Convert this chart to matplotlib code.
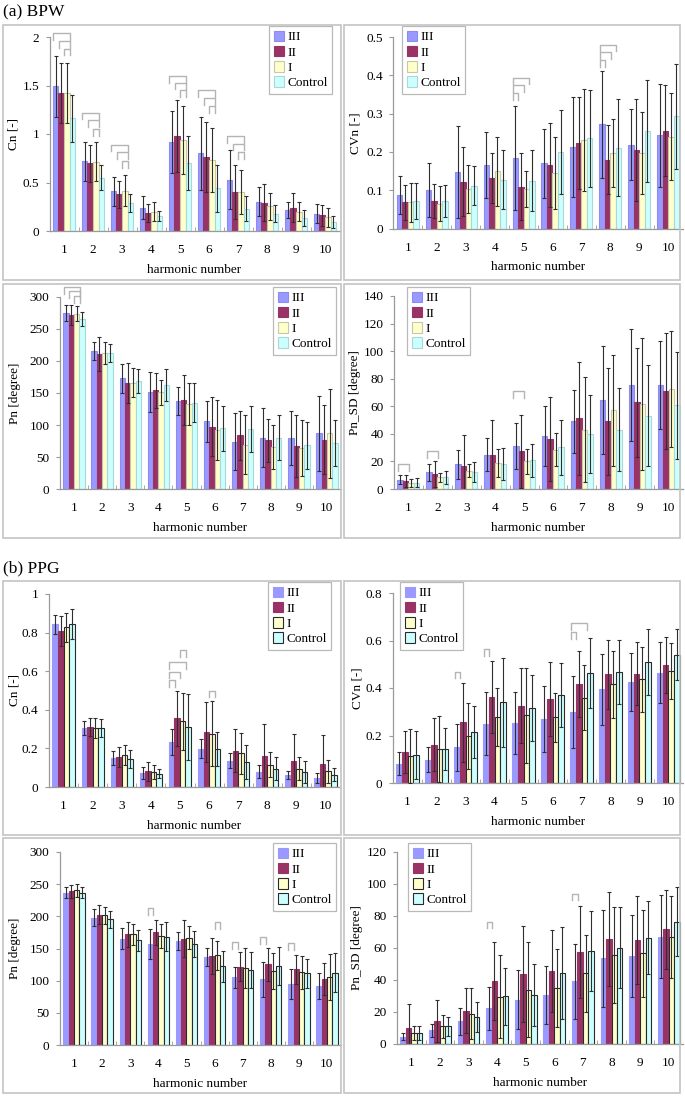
import matplotlib
matplotlib.use('Agg')
import matplotlib.pyplot as plt
import numpy as np
from matplotlib.patches import Rectangle

plt.rcParams['font.family'] = ['Liberation Serif', 'DejaVu Serif']

W, H = 685, 1097

series = ['III', 'II', 'I', 'Control']
harmonics = ['1', '2', '3', '4', '5', '6', '7', '8', '9', '10']

# ---------------- (a) BPW ----------------
bpw_cn_mean = [[1.49, 0.72, 0.41, 0.24, 0.92, 0.80, 0.53, 0.30, 0.215, 0.18],
               [1.42, 0.70, 0.38, 0.185, 0.98, 0.76, 0.405, 0.29, 0.24, 0.16],
               [1.42, 0.715, 0.415, 0.20, 0.94, 0.735, 0.405, 0.255, 0.20, 0.14],
               [1.16, 0.55, 0.29, 0.155, 0.70, 0.44, 0.23, 0.18, 0.135, 0.09]]
bpw_cn_sd = [[0.31, 0.20, 0.15, 0.12, 0.32, 0.375, 0.30, 0.15, 0.08, 0.10],
             [0.31, 0.19, 0.14, 0.09, 0.37, 0.36, 0.28, 0.19, 0.15, 0.105],
             [0.31, 0.20, 0.16, 0.10, 0.35, 0.33, 0.225, 0.14, 0.10, 0.10],
             [0.24, 0.13, 0.09, 0.05, 0.28, 0.24, 0.13, 0.085, 0.085, 0.06]]

bpw_cvn_mean = [[0.087, 0.100, 0.148, 0.166, 0.185, 0.170, 0.213, 0.272, 0.219, 0.243],
                [0.068, 0.072, 0.122, 0.131, 0.109, 0.165, 0.223, 0.180, 0.204, 0.255],
                [0.068, 0.065, 0.103, 0.150, 0.104, 0.145, 0.230, 0.197, 0.197, 0.240],
                [0.071, 0.071, 0.112, 0.127, 0.125, 0.200, 0.235, 0.211, 0.254, 0.293]]
bpw_cvn_sd = [[0.050, 0.070, 0.120, 0.086, 0.136, 0.090, 0.130, 0.139, 0.093, 0.135],
              [0.045, 0.045, 0.090, 0.065, 0.088, 0.110, 0.120, 0.089, 0.133, 0.119],
              [0.050, 0.045, 0.063, 0.090, 0.047, 0.094, 0.133, 0.088, 0.106, 0.114],
              [0.047, 0.042, 0.050, 0.077, 0.080, 0.110, 0.126, 0.126, 0.133, 0.137]]

bpw_pn_mean = [[275, 216, 173, 152, 137, 106, 74, 80, 80, 87],
               [272, 211, 166, 154, 139, 97, 84, 76, 67, 77],
               [274, 213, 166, 151, 133, 92, 69, 66, 64, 87],
               [265, 212, 169, 163, 135, 95, 94, 80, 68, 72]]
bpw_pn_sd = [[13, 14, 23, 31, 22, 32, 45, 46, 42, 59],
             [15, 27, 31, 27, 39, 46, 38, 34, 48, 54],
             [12, 17, 23, 19, 33, 47, 46, 34, 44, 70],
             [11, 14, 19, 25, 30, 35, 36, 35, 36, 36]]

bpw_pnsd_mean = [[6.8, 12.0, 18.0, 24.9, 31.1, 38.6, 49.0, 64.7, 75.5, 75.5],
                 [6.0, 10.9, 16.9, 24.4, 27.3, 36.4, 51.4, 49.0, 62.8, 71.2],
                 [4.3, 8.4, 13.3, 18.8, 20.0, 28.5, 43.0, 57.0, 61.5, 72.7],
                 [4.6, 8.4, 12.3, 18.1, 20.8, 30.2, 39.8, 43.0, 53.3, 60.6]]
bpw_pnsd_sd = [[3.3, 6.0, 10.5, 12.0, 16.7, 21.7, 23.0, 39.0, 40.6, 32.0],
               [4.4, 9.6, 22.4, 25.3, 26.5, 30.6, 41.0, 38.6, 39.8, 42.0],
               [3.2, 3.2, 4.7, 10.4, 9.0, 12.0, 38.0, 40.0, 48.0, 42.0],
               [3.4, 4.9, 7.2, 11.6, 12.0, 20.0, 28.5, 30.0, 36.7, 39.0]]

# ---------------- (b) PPG ----------------
ppg_cn_mean = [[0.844, 0.307, 0.151, 0.075, 0.234, 0.199, 0.137, 0.080, 0.061, 0.047],
               [0.809, 0.310, 0.156, 0.081, 0.355, 0.286, 0.189, 0.159, 0.135, 0.118],
               [0.828, 0.307, 0.165, 0.078, 0.341, 0.277, 0.175, 0.116, 0.095, 0.081],
               [0.844, 0.305, 0.147, 0.069, 0.310, 0.198, 0.130, 0.095, 0.078, 0.064]]
ppg_cn_sd = [[0.049, 0.036, 0.036, 0.031, 0.066, 0.049, 0.040, 0.033, 0.022, 0.024],
             [0.078, 0.047, 0.052, 0.049, 0.144, 0.154, 0.111, 0.165, 0.141, 0.151],
             [0.076, 0.052, 0.052, 0.035, 0.148, 0.168, 0.106, 0.066, 0.058, 0.061],
             [0.078, 0.047, 0.047, 0.023, 0.170, 0.088, 0.087, 0.058, 0.057, 0.035]]

ppg_cvn_mean = [[0.081, 0.098, 0.150, 0.249, 0.252, 0.270, 0.298, 0.394, 0.425, 0.464],
                [0.130, 0.161, 0.255, 0.361, 0.326, 0.354, 0.417, 0.457, 0.461, 0.495],
                [0.113, 0.143, 0.197, 0.278, 0.285, 0.277, 0.359, 0.415, 0.436, 0.471],
                [0.119, 0.143, 0.214, 0.340, 0.315, 0.371, 0.464, 0.466, 0.510, 0.541]]
ppg_cvn_sd = [[0.049, 0.053, 0.098, 0.133, 0.130, 0.140, 0.152, 0.149, 0.123, 0.128],
              [0.087, 0.112, 0.167, 0.152, 0.159, 0.154, 0.138, 0.147, 0.133, 0.118],
              [0.114, 0.138, 0.139, 0.121, 0.200, 0.104, 0.137, 0.140, 0.135, 0.119],
              [0.102, 0.089, 0.110, 0.187, 0.140, 0.135, 0.147, 0.135, 0.140, 0.109]]

ppg_pn_mean = [[237, 198, 165.5, 156.7, 161.4, 136.6, 105, 102, 94.7, 91.6],
               [239, 202.8, 171.8, 174.9, 165.5, 138.6, 121.6, 125.2, 117.4, 102],
               [240.6, 201.8, 171.8, 169.7, 166.6, 139.7, 120, 115.4, 112.8, 105],
               [237, 195.5, 163, 168.6, 156.7, 122.6, 116.4, 122.6, 111.2, 112.3]]
ppg_pn_sd = [[8, 13, 17, 23, 13.5, 14.5, 16.6, 27, 23, 19.7],
             [10, 14.5, 20, 20, 28.5, 28, 22.7, 26, 22.8, 24.8],
             [10, 13, 16.5, 19, 18, 22.7, 31, 28, 25.6, 35.7],
             [8, 13.5, 16.5, 23, 20, 24, 27.4, 29.6, 22.3, 30.5]]

ppg_pnsd_mean = [[4.4, 8.5, 14.1, 22.2, 27.8, 30.5, 39.2, 53.6, 55.0, 67.0],
                 [10.0, 14.5, 20.8, 39.2, 44.0, 45.5, 57.5, 65.6, 65.0, 71.8],
                 [6.6, 11.0, 18.9, 29.5, 34.0, 35.0, 44.2, 55.6, 56.6, 67.0],
                 [6.9, 11.0, 16.8, 29.9, 30.5, 44.4, 58.3, 60.2, 66.4, 76.4]]
ppg_pnsd_sd = [[2.2, 4.2, 8.3, 13.3, 18.7, 18.3, 23.5, 30.4, 25.5, 26.0],
               [15.0, 13.0, 14.0, 24.5, 30.0, 25.5, 28.6, 29.5, 27.6, 24.7],
               [4.4, 7.3, 16.0, 26.0, 29.7, 24.5, 24.0, 30.0, 27.0, 25.6],
               [4.5, 5.8, 9.4, 17.8, 19.3, 29.0, 25.0, 25.5, 22.8, 21.6]]

# significance brackets: (harmonic index, series a, series b, top value)
bpw_cn_br = [(0, 0, 3, 2.04), (0, 1, 3, 1.96), (0, 2, 3, 1.88),
             (1, 0, 3, 1.22), (1, 1, 3, 1.14), (1, 2, 3, 1.05),
             (2, 0, 3, 0.89), (2, 1, 3, 0.81), (2, 2, 3, 0.72),
             (4, 0, 3, 1.60), (4, 1, 3, 1.53), (4, 2, 3, 1.45),
             (5, 0, 3, 1.45), (5, 1, 3, 1.37), (5, 2, 3, 1.29),
             (6, 0, 3, 0.98), (6, 1, 3, 0.90), (6, 2, 3, 0.81)]
bpw_cvn_br = [(4, 0, 3, 0.394), (4, 0, 2, 0.374), (4, 0, 1, 0.354),
              (7, 0, 3, 0.480), (7, 0, 2, 0.461), (7, 0, 1, 0.439)]
bpw_pn_br = [(0, 0, 3, 315), (0, 1, 3, 309), (0, 2, 3, 301)]
bpw_pnsd_br = [(0, 0, 2, 18.3), (1, 0, 2, 27.3), (4, 0, 2, 71.0)]
ppg_cn_br = [(4, 0, 3, 0.646), (4, 0, 2, 0.598), (4, 0, 1, 0.555),
             (4, 2, 3, 0.711), (5, 2, 3, 0.499)]
ppg_cvn_br = [(2, 0, 1, 0.469), (3, 0, 1, 0.564), (6, 0, 3, 0.674), (6, 0, 1, 0.636)]
ppg_pn_br = [(3, 0, 1, 213), (5, 2, 3, 191), (6, 0, 1, 160), (7, 0, 1, 168), (8, 0, 1, 158)]
ppg_pnsd_br = [(3, 0, 1, 76.4), (6, 0, 1, 94.0)]

colors = ['#9999ff', '#993366', '#ffffcc', '#ccffff']
bpw_edges = ['#8c8cf0', '#993366', '#c8c8a8', '#a8d8d8']
ppg_edges = ['#9999ff', '#993366', '#2a2a2a', '#2a2a2a']

fig = plt.figure(figsize=(W / 100, H / 100), dpi=100)

# panel frames (pixel coordinates: left, top, right, bottom)
frames = [(3, 25, 341, 280), (344, 25, 680, 280),
          (3, 284, 341, 538), (344, 284, 680, 538),
          (3, 581, 341, 835), (344, 581, 680, 835),
          (3, 838, 341, 1093), (344, 838, 680, 1093)]
for (l, t, r, b) in frames:
    fig.add_artist(Rectangle((l / W, 1 - b / H), (r - l) / W, (b - t) / H,
                             transform=fig.transFigure, fill=False,
                             edgecolor='#c4c4c4', lw=1.2))

fig.text(3 / W, 1 - 12 / H, '(a) BPW', fontsize=12.5, va='center', ha='left')
fig.text(3 / W, 1 - 568 / H, '(b) PPG', fontsize=12.5, va='center', ha='left')

panels = [
    dict(mean=bpw_cn_mean, sd=bpw_cn_sd, br=bpw_cn_br, ylim=(0, 2), ticks=[0, 0.5, 1, 1.5, 2],
         ylabel='Cn [-]', rect=(49.5, 37, 339.5, 231), ylab=36, leg=(269, 26), edges=bpw_edges),
    dict(mean=bpw_cvn_mean, sd=bpw_cvn_sd, br=bpw_cvn_br, ylim=(0, 0.5),
         ticks=[0, 0.1, 0.2, 0.3, 0.4, 0.5],
         ylabel='CVn [-]', rect=(393.5, 37, 682.5, 228.5), ylab=38, leg=(402, 26), edges=bpw_edges),
    dict(mean=bpw_pn_mean, sd=bpw_pn_sd, br=bpw_pn_br, ylim=(0, 300),
         ticks=[0, 50, 100, 150, 200, 250, 300],
         ylabel='Pn [degree]', rect=(60, 297, 341, 489), ylab=45, leg=(273, 287), edges=bpw_edges),
    dict(mean=bpw_pnsd_mean, sd=bpw_pnsd_sd, br=bpw_pnsd_br, ylim=(0, 140),
         ticks=[0, 20, 40, 60, 80, 100, 120, 140],
         ylabel='Pn_SD [degree]', rect=(394, 296, 683, 489), ylab=39, leg=(407, 287), edges=bpw_edges),
    dict(mean=ppg_cn_mean, sd=ppg_cn_sd, br=ppg_cn_br, ylim=(0, 1),
         ticks=[0, 0.2, 0.4, 0.6, 0.8, 1],
         ylabel='Cn [-]', rect=(49, 594, 340, 787), ylab=34, leg=(268, 582), edges=ppg_edges),
    dict(mean=ppg_cvn_mean, sd=ppg_cvn_sd, br=ppg_cvn_br, ylim=(0, 0.8),
         ticks=[0, 0.2, 0.4, 0.6, 0.8],
         ylabel='CVn [-]', rect=(393, 593, 683, 783), ylab=36, leg=(400, 582), edges=ppg_edges),
    dict(mean=ppg_pn_mean, sd=ppg_pn_sd, br=ppg_pn_br, ylim=(0, 300),
         ticks=[0, 50, 100, 150, 200, 250, 300],
         ylabel='Pn [degree]', rect=(60, 852, 341, 1045), ylab=45, leg=(273, 843), edges=ppg_edges),
    dict(mean=ppg_pnsd_mean, sd=ppg_pnsd_sd, br=ppg_pnsd_br, ylim=(0, 120),
         ticks=[0, 20, 40, 60, 80, 100, 120],
         ylabel='Pn_SD [degree]', rect=(397, 852, 683, 1044), ylab=40, leg=(408, 843), edges=ppg_edges),
]

bw = 0.19
x = np.arange(len(harmonics))
axis_col = '#9a9a9a'

for p in panels:
    l, t, r, b = p['rect']
    ax = fig.add_axes([l / W, 1 - b / H, (r - l) / W, (b - t) / H])
    ax.set_facecolor('none')
    handles = []
    for i, name in enumerate(series):
        xi = x + (i - 1.5) * bw
        bars = ax.bar(xi, p['mean'][i], width=bw, color=colors[i],
                      edgecolor=p['edges'][i], linewidth=0.8, label=name, zorder=2)
        handles.append(bars)
    for i in range(len(series)):
        xi = x + (i - 1.5) * bw
        ax.errorbar(xi, p['mean'][i], yerr=p['sd'][i], fmt='none', ecolor='#2e2e2e',
                    elinewidth=0.8, capsize=1.6, capthick=0.8, zorder=3)
    yr = p['ylim'][1] - p['ylim'][0]
    hleg = 0.035 * yr
    for (g, a, c, y) in p['br']:
        xa = g + (a - 1.5) * bw - 0.45 * bw
        xb = g + (c - 1.5) * bw - 0.45 * bw
        ax.plot([xa, xa, xb, xb], [y - hleg, y, y, y - hleg], color='#b4b4b4',
                lw=1.0, clip_on=False, zorder=1)
    ax.set_xlim(-0.5, len(harmonics) - 0.5)
    ax.set_ylim(*p['ylim'])
    ax.set_yticks(p['ticks'])
    ax.set_yticklabels(['%g' % v for v in p['ticks']])
    ax.set_xticks(x)
    ax.set_xticklabels(harmonics)
    ax.set_xticks(np.arange(0.5, len(harmonics) - 1, 1.0), minor=True)
    ax.tick_params(axis='x', which='major', length=0, pad=9.5, labelsize=9.5)
    ax.tick_params(axis='x', which='minor', direction='in', length=3, color=axis_col)
    ax.tick_params(axis='y', which='major', direction='out', length=3, pad=4.5,
                   labelsize=9.5, color=axis_col)
    for s in ['top', 'right']:
        ax.spines[s].set_visible(False)
    for s in ['left', 'bottom']:
        ax.spines[s].set_color(axis_col)
        ax.spines[s].set_linewidth(0.9)
    ax.set_xlabel('harmonic number', fontsize=9.5)
    ax.xaxis.label.set_va('center')
    ax.xaxis.set_label_coords(0.5, -39 / (b - t))
    ax.set_ylabel(p['ylabel'], fontsize=9.5)
    ax.yaxis.label.set_va('center')
    ax.yaxis.set_label_coords(-p['ylab'] / (r - l), 0.5)
    lx, ly = p['leg']
    leg = ax.legend(handles=handles, loc='upper left', bbox_to_anchor=(lx / W, 1 - ly / H),
                    bbox_transform=fig.transFigure, borderaxespad=0, frameon=True,
                    fancybox=False, edgecolor='#a8a8a8', fontsize=9.5, handlelength=0.75,
                    handleheight=0.85, handletextpad=0.3, labelspacing=0.18, borderpad=0.35)
    leg.get_frame().set_linewidth(0.9)

fig.savefig('out.png', dpi=100)
